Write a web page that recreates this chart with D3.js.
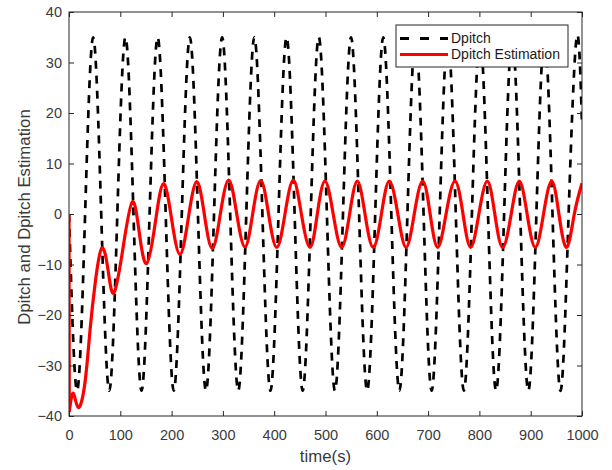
<!DOCTYPE html>
<html>
<head>
<meta charset="utf-8">
<script src="https://cdn.jsdelivr.net/npm/d3@7"></script>
<style>
  html, body { margin: 0; padding: 0; background: #fff; }
  svg { display: block; font-family: "Liberation Sans", Arial, sans-serif; }
</style>
</head>
<body>
<svg id="chart" width="612" height="470"></svg>
<script>
// ---- data ----
const xTicks = [0, 100, 200, 300, 400, 500, 600, 700, 800, 900, 1000];
const yTicks = [-40, -30, -20, -10, 0, 10, 20, 30, 40];

const seriesNames = ["Dpitch", "Dpitch Estimation"];

// Dpitch (black dashed): extrema and zero crossings
const dpitchTime = [0, 15.7, 31.4, 47.1, 62.8, 78.5, 94.2, 110.0, 125.7, 141.4, 157.1, 172.8,
  188.5, 204.2, 219.9, 235.6, 251.3, 267.0, 282.7, 298.5, 314.2, 329.9, 345.6, 361.3,
  377.0, 392.7, 408.4, 424.1, 439.8, 455.5, 471.2, 486.9, 502.7, 518.4, 534.1, 549.8,
  565.5, 581.2, 596.9, 612.6, 628.3, 644.0, 659.7, 675.4, 691.2, 706.9, 722.6, 738.3,
  754.0, 769.7, 785.4, 801.1, 816.8, 832.5, 848.2, 863.9, 879.6, 895.4, 911.1, 926.8,
  942.5, 958.2, 973.9, 989.6, 1000];
const dpitchValue = [0, -35, 0, 35, 0, -35, 0, 35, 0, -35, 0, 35,
  0, -35, 0, 35, 0, -35, 0, 35, 0, -35, 0, 35,
  0, -35, 0, 35, 0, -35, 0, 35, 0, -35, 0, 35,
  0, -35, 0, 35, 0, -35, 0, 35, 0, -35, 0, 35,
  0, -35, 0, 35, 0, -35, 0, 35, 0, -35, 0, 35,
  0, -35, 0, 35, 17.7];

// Dpitch Estimation (red solid)
const estTime = [0, 0.5, 8.4, 18.1, 31, 41, 51, 63.7, 76, 87.7, 105.5, 123.4, 137, 151.4,
  168, 184, 200, 216.4, 232.6, 248.9, 264, 279.4, 295, 311.3, 327, 343, 358, 373.7,
  389, 404.9, 421, 437.2, 453, 469.8, 484, 499, 515, 531.5, 547, 562, 577, 593,
  609, 624.4, 641, 657, 673, 689.4, 704, 718.7, 735, 752.4, 768, 783, 799, 815.4,
  830, 845.4, 862, 877.8, 893, 909, 925, 940.9, 955, 970, 985, 1000];
const estValue = [0, -39.2, -35.5, -38.3, -33.5, -23, -13.7, -6.8, -11, -15.6, -6.6, 2.4, -3.7, -9.8,
  -1.9, 6.0, -1.0, -8.0, -0.8, 6.4, -0.2, -6.8, 0, 6.7, 0, -6.5, 0, 6.6,
  0, -6.6, 0, 6.7, 0, -6.6, 0, 6.5, 0, -6.6, 0, 6.5, 0, -6.6,
  0, 6.5, 0, -6.6, 0, 6.5, 0, -6.6, 0, 6.5, 0, -6.6, 0, 6.5,
  0, -6.6, 0, 6.5, 0, -6.6, 0, 6.5, 0, -6.6, 0, 6.1];

// ---- drawing ----
const svg = d3.select("#chart");
const L = 69, R = 582, T = 12, B = 416;
const x = d3.scaleLinear().domain([0, 1000]).range([L, R]);
const y = d3.scaleLinear().domain([-40, 40]).range([B, T]);
const axisColor = "#262626";
const textColor = "#3a3a3a";
const fmt = d3.format("d");

svg.append("rect").attr("x", 0).attr("y", 0).attr("width", 612).attr("height", 470).attr("fill", "#fff");

svg.append("defs").append("clipPath").attr("id", "clip")
  .append("rect").attr("x", L).attr("y", T).attr("width", R - L).attr("height", B - T);

const plot = svg.append("g").attr("clip-path", "url(#clip)");

const dpitchData = dpitchTime.map((t, i) => [t, dpitchValue[i]]);
const estData = estTime.map((t, i) => [t, estValue[i]]);

const natural = d3.line().x(d => x(d[0])).y(d => y(d[1])).curve(d3.curveNatural);
const straight = d3.line().x(d => x(d[0])).y(d => y(d[1]));

plot.append("path").attr("d", natural(dpitchData))
  .attr("fill", "none").attr("stroke", "#000").attr("stroke-width", 2.7)
  .attr("stroke-dasharray", "8,7");

plot.append("path").attr("d", straight(estData.slice(0, 2)))
  .attr("fill", "none").attr("stroke", "#ff0000").attr("stroke-width", 3.2);
plot.append("path").attr("d", natural(estData.slice(1)))
  .attr("fill", "none").attr("stroke", "#ff0000").attr("stroke-width", 3.2)
  .attr("stroke-linejoin", "round");

// axes
function styleAxis(g) {
  g.select(".domain").remove();
  g.selectAll(".tick line").attr("stroke", axisColor);
  g.selectAll(".tick text").attr("fill", textColor).attr("font-size", 14.5)
    .attr("font-family", "'Liberation Sans', Arial, sans-serif");
}
svg.append("g").attr("transform", `translate(0,${B})`)
  .call(d3.axisBottom(x).tickValues(xTicks).tickFormat(fmt).tickSizeInner(-5).tickSizeOuter(0).tickPadding(14))
  .call(styleAxis);
svg.append("g").attr("transform", `translate(0,${T})`)
  .call(d3.axisTop(x).tickValues(xTicks).tickSizeInner(-5).tickSizeOuter(0).tickFormat(""))
  .call(styleAxis);
svg.append("g").attr("transform", `translate(${L},0)`)
  .call(d3.axisLeft(y).tickValues(yTicks).tickFormat(fmt).tickSizeInner(-5).tickSizeOuter(0).tickPadding(7))
  .call(styleAxis);
svg.append("g").attr("transform", `translate(${R},0)`)
  .call(d3.axisRight(y).tickValues(yTicks).tickSizeInner(-5).tickSizeOuter(0).tickFormat(""))
  .call(styleAxis);

svg.append("rect").attr("x", L).attr("y", T).attr("width", R - L).attr("height", B - T)
  .attr("fill", "none").attr("stroke", axisColor).attr("stroke-width", 1);

// axis labels
svg.append("text").attr("x", (L + R) / 2).attr("y", 462).attr("text-anchor", "middle")
  .attr("font-size", 16.8).attr("fill", textColor).text("time(s)");
svg.append("text").attr("transform", "translate(29.5,217) rotate(-90)").attr("text-anchor", "middle")
  .attr("font-size", 16.8).attr("fill", textColor).text("Dpitch and Dpitch Estimation");

// legend
const lg = svg.append("g");
lg.append("rect").attr("x", 396).attr("y", 25).attr("width", 172).attr("height", 42)
  .attr("fill", "#fff").attr("stroke", axisColor).attr("stroke-width", 1);
const rows = [
  { name: seriesNames[0], color: "#000", dash: "9,11", cy: 38.5 },
  { name: seriesNames[1], color: "#ff0000", dash: null, cy: 54.5 }
];
rows.forEach(r => {
  lg.append("line").attr("x1", 400).attr("x2", 448).attr("y1", r.cy).attr("y2", r.cy)
    .attr("stroke", r.color).attr("stroke-width", 3)
    .attr("stroke-dasharray", r.dash);
  lg.append("text").attr("x", 451).attr("y", r.cy).attr("dy", "0.35em")
    .attr("font-size", 14).attr("fill", "#1a1a1a").text(r.name);
});
</script>
</body>
</html>
